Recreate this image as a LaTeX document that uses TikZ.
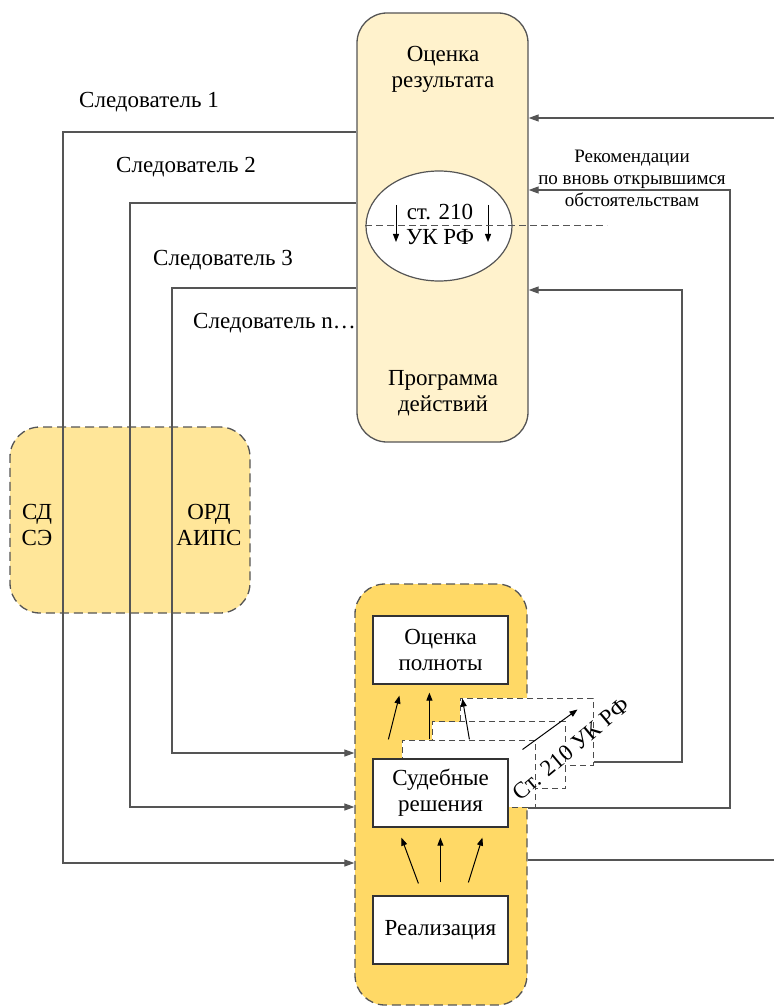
\documentclass[tikz,border=0pt]{standalone}
\usepackage{fontspec}
\setmainfont{LiberationSerif}[Extension=.ttf,UprightFont=*-Regular,BoldFont=*-Bold]
\usetikzlibrary{arrows.meta,shapes.geometric}
\definecolor{resfill}{HTML}{FFF2CC}
\definecolor{sdfill}{HTML}{FFE699}
\definecolor{contfill}{HTML}{FFD966}
\definecolor{linegray}{HTML}{555555}

\begin{document}
\begin{tikzpicture}[x=1pt,y=-1pt,
  every node/.style={inner sep=0pt,align=center,font=\fontsize{23}{26}\selectfont},
  conn/.style={draw=linegray,line width=1.2pt},
  arr/.style={-{Triangle[length=10pt,width=7pt]}},
  smallarr/.style={draw=black,line width=1pt,-{Triangle[length=8pt,width=6pt]}},
  bigbox/.style={draw=linegray,line width=1.3pt,rounded corners=30pt},
  dashbox/.style={bigbox,dash pattern=on 9pt off 5pt},
  whitebox/.style={draw=black!80,line width=1.2pt,fill=white,minimum width=135pt,minimum height=68pt},
  docbox/.style={draw=black!70,line width=1pt,dash pattern=on 6pt off 4pt,fill=white,minimum width=133pt,minimum height=67pt}]
\useasboundingbox (0,0) rectangle (774,1008);

\node[bigbox,fill=resfill,minimum width=171pt,minimum height=429pt] (res) at (442.5,227.5) {};
\node (resA) at (443,69) {Оценка\\результата};
\node (resB) at (443,393) {Программа\\действий};
\node[ellipse,draw=linegray,line width=1.2pt,fill=white,minimum width=146pt,minimum height=110pt] (ell) at (439,226) {};
\node[anchor=base] (st1) at (440,220) {ст. 210};
\node[anchor=base] (st2) at (440,244) {УК РФ};
\draw[smallarr] ([xshift=-43pt,yshift=21pt]ell.center) -- ++(0,37);
\draw[smallarr] ([xshift=49pt,yshift=21pt]ell.center) -- ++(0,37);
\draw[draw=linegray,line width=1pt,dash pattern=on 7pt off 4pt] (ell.west) -- ++(242,0);

\node[dashbox,fill=sdfill,minimum width=240pt,minimum height=186pt] (sd) at (130,520) {};
\node (sdA) at (37,525) {СД\\СЭ};
\node (sdB) at (209,525) {ОРД\\АИПС};

\node[dashbox,fill=contfill,minimum width=172pt,minimum height=421pt] (cont) at (441,794.5) {};
\node[whitebox] (poln) at (440.5,650) {Оценка\\полноты};
\node[docbox] (doc3) at (526.5,731.5) {};
\node[docbox] (doc2) at (498.5,755) {};
\node[docbox] (doc1) at (468.5,773.5) {};
\node[whitebox] (sud) at (440.5,793) {Судебные\\решения};
\node[whitebox] (real) at (440.5,930) {Реализация};
\node[rotate=40] (stdoc) at (571,749) {Ст. 210 УК РФ};
\draw[smallarr] ([xshift=121pt,yshift=-10pt]doc1.north west) -- ([xshift=118pt,yshift=-12pt]doc3.north west);

\draw[smallarr] ([xshift=16pt,yshift=19pt]sud.north west) -- ([xshift=27pt,yshift=-11pt]poln.south west);
\draw[smallarr] ([xshift=57pt,yshift=19pt]sud.north west) -- ([xshift=57pt,yshift=-8pt]poln.south west);
\draw[smallarr] ([xshift=97pt,yshift=19pt]sud.north west) -- ([xshift=90pt,yshift=-14pt]poln.south west);
\draw[smallarr] ([xshift=46pt,yshift=12pt]real.north west) -- ([xshift=29pt,yshift=-10pt]sud.south west);
\draw[smallarr] ([xshift=68pt,yshift=13pt]real.north west) -- ([xshift=68pt,yshift=-10pt]sud.south west);
\draw[smallarr] ([xshift=96pt,yshift=13pt]real.north west) -- ([xshift=110pt,yshift=-10pt]sud.south west);

\node[anchor=base west] (sl1) at (79,108) {Следователь 1};
\node[anchor=base west] (sl2) at (116,173) {Следователь 2};
\node[anchor=base west] (sl3) at (153,265) {Следователь 3};
\node[anchor=base west] (sln) at (193,328) {Следователь n…};
\draw[conn,arr] (res.west |- 0,132) -| (63,863) -- (cont.west |- 0,863);
\draw[conn,arr] (res.west |- 0,203) -| (130,807) -- (cont.west |- 0,807);
\draw[conn,arr] (res.west |- 0,288) -| (172,753) -- (cont.west |- 0,753);

\coordinate (edgeT) at (774,118);
\coordinate (edgeB) at (774,860);
\draw[conn,arr] (edgeT) -- (res.east |- edgeT);
\draw[conn,arr] (cont.east |- 0,808) -| (730,190) -- (res.east |- 0,190);
\draw[conn,arr] (doc3.east |- 0,762) -| (682,290) -- (res.east |- 0,290);
\draw[conn] (cont.east |- edgeB) -- (edgeB);
\node[font=\fontsize{19}{22}\selectfont] (rec) at (632,178) {Рекомендации\\по вновь открывшимся\\обстоятельствам};
\end{tikzpicture}
\end{document}
